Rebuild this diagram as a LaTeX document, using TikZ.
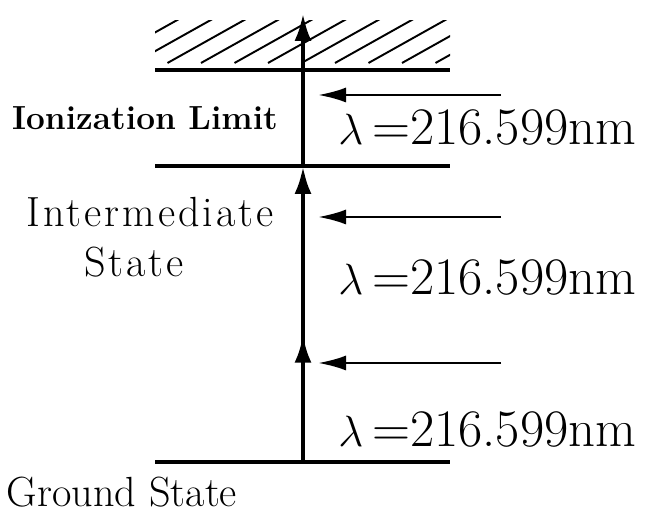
\documentclass[tikz,border=0pt]{standalone}
\usepackage{fontspec}
\setmainfont{Latin Modern Roman}
\usepackage{tikz}
\usetikzlibrary{arrows.meta,decorations.markings}
\newfontfamily\spacedfont[LetterSpace=7]{Latin Modern Roman}
\tikzset{
  level/.style={line width=2pt},
  hatchline/.style={line width=1.1pt},
  excite/.style={line width=2.6pt,-{Latex[length=0.56cm,width=0.34cm]}},
  midhead/.style={postaction={decorate},decoration={markings,
      mark=at position #1 with {\arrow{Latex[length=0.56cm,width=0.34cm]}}}},
  photon/.style={line width=1.5pt,-{Latex[length=0.56cm,width=0.3cm]}},
  wavelabel/.style={anchor=west,inner sep=0pt,font=\fontsize{30}{34}\selectfont},
  statelabel/.style={inner sep=0pt,font=\fontsize{24}{28}\selectfont},
  spacedlabel/.style={inner sep=0pt,font=\spacedfont\fontsize{24}{28}\selectfont},
}

\begin{document}
\begin{tikzpicture}
    \useasboundingbox (0,0) rectangle (12.92,10.28);
    % hatching above the ionization limit
    \begin{scope}
      \clip (3.1,9.0) rectangle (9.0,9.86);
      \foreach \x in {0.0,0.67,...,9.2}
        \draw[hatchline] (\x,9.02) -- ++(2.5,1.4);
    \end{scope}
    \coordinate (ionL) at (3.1,8.88);  \coordinate (ionR) at (9.0,8.88);
    \coordinate (intL) at (3.1,6.96);  \coordinate (intR) at (9.0,6.96);
    \coordinate (gndL) at (3.1,1.04);  \coordinate (gndR) at (9.0,1.04);
    \draw[level] (ionL) -- (ionR);
    \draw[level] (intL) -- (intR);
    \draw[level] (gndL) -- (gndR);
    \coordinate (gnd) at (6.06,1.04);
    \coordinate (int) at (6.06,6.96);
    \coordinate (top) at (6.06,10.02);
    \draw[excite,midhead=0.43] (gnd) -- (int);
    \draw[excite] (int) -- (top);
    \foreach \i/\ya/\yb in {1/8.38/7.72,2/5.94/4.72,3/3.02/1.68} {
      \coordinate (src\i) at (10.02,\ya);
      \coordinate (tip\i) at (6.36,\ya);
      \draw[photon] (src\i) -- (tip\i);
      \node[wavelabel] (lam\i) at (6.76,\yb) {$\lambda$\,=216.599nm};
    }
    \node[inner sep=0pt,font=\fontsize{19}{23}\selectfont\bfseries] (ion) at (2.9,7.92) {Ionization Limit};
    \node[spacedlabel] (inter) at (3.0,6.04) {Intermediate};
    \node[spacedlabel] (state) at (2.68,5.04) {State};
    \node[statelabel] (ground) at (2.44,0.44) {Ground State};
\end{tikzpicture}
\end{document}
